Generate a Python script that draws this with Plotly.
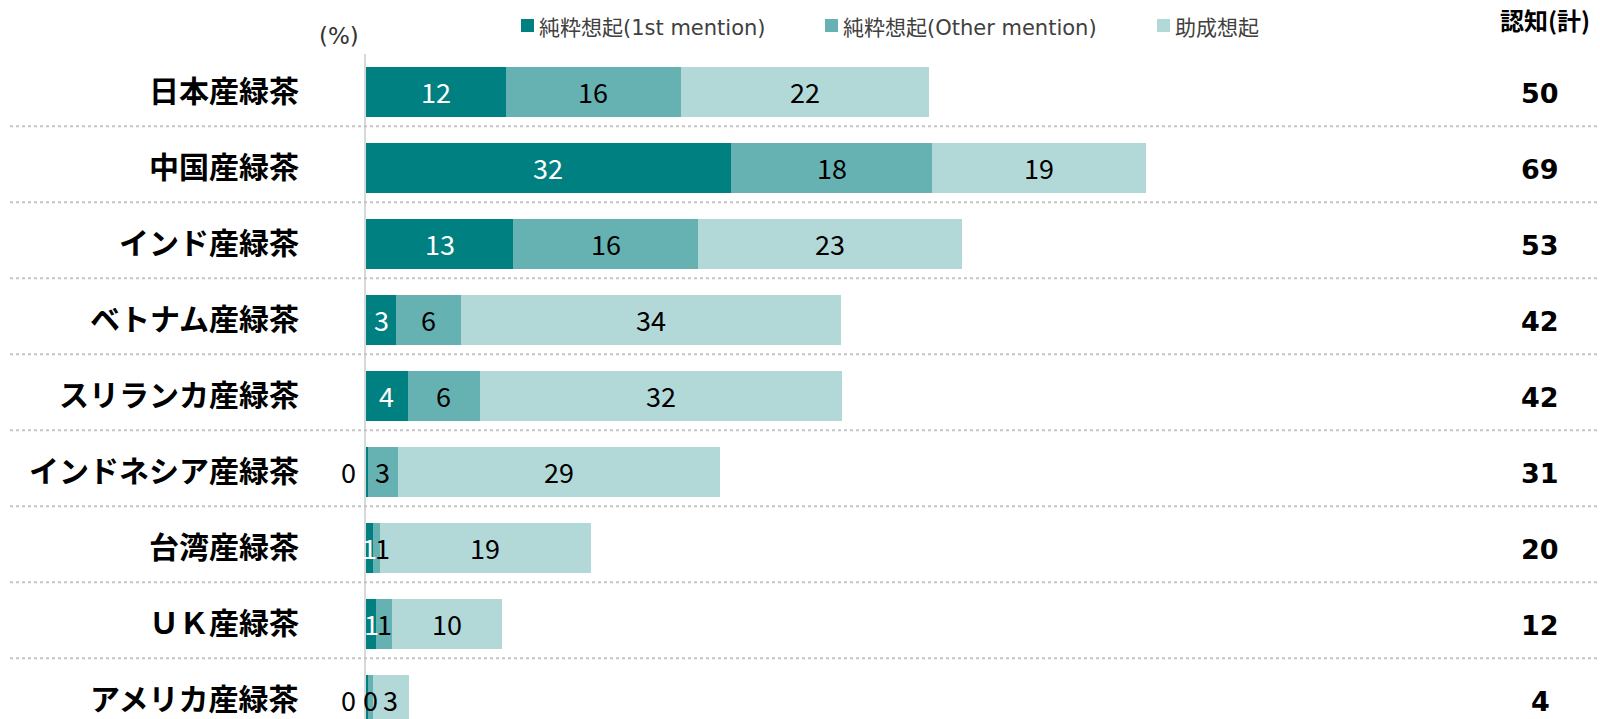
import math
import plotly.graph_objects as go

categories = ["日本産緑茶", "中国産緑茶", "インド産緑茶", "ベトナム産緑茶", "スリランカ産緑茶",
              "インドネシア産緑茶", "台湾産緑茶", "ＵＫ産緑茶", "アメリカ産緑茶"]
first_mention = [12.4, 32.4, 13.1, 2.7, 3.7, 0.2, 0.6, 0.9, 0.2]
other_mention = [15.6, 17.9, 16.4, 5.7, 6.4, 2.6, 0.6, 1.4, 0.4]
aided = [22.0, 19.0, 23.4, 33.8, 32.2, 28.6, 18.8, 9.8, 3.2]
totals = [50, 69, 53, 42, 42, 31, 20, 12, 4]
series_names = ["純粋想起(1st mention)", "純粋想起(Other mention)", "助成想起"]
colors = ["#008080", "#66B2B2", "#B2D8D8"]
label_colors = ["#FFFFFF", "#000000", "#000000"]

FONT = "Noto Sans CJK JP"
MIX = "DejaVu Sans, Noto Sans CJK JP"
W, H = 1600, 719
ML, MT = 366, 54
PW = W - ML
PH = H - MT
XMAX = 109.6
PXU = PW / XMAX


def px_x(px):
    return (px - ML) / PW


def px_y(py):
    return (H - py) / PH


series = [first_mention, other_mention, aided]
fig = go.Figure()
for name, vals, col in zip(series_names, series, colors):
    fig.add_trace(go.Bar(
        y=categories, x=vals, name=name, orientation="h",
        marker=dict(color=col, line=dict(width=0)),
        width=0.66, showlegend=False, hoverinfo="skip",
    ))

annotations = []
for i, cat in enumerate(categories):
    start = 0.0
    prev_px = None
    for s, vals in enumerate(series):
        v = vals[i]
        center = start + v / 2
        cpx = center * PXU
        txt = str(int(math.floor(v + 0.5)))
        shift = 0
        col = label_colors[s]
        if s == 0 and txt == "0":
            shift = -19
            col = "#000000"
        elif prev_px is not None and cpx - prev_px < 13:
            shift = prev_px + 13.5 - cpx
        annotations.append(dict(
            x=center, y=cat, xref="x", yref="y", text=txt, showarrow=False,
            xanchor="center", yanchor="middle", xshift=shift, yshift=1,
            font=dict(family=FONT, size=27, color=col),
        ))
        prev_px = cpx + shift
        start += v
    annotations.append(dict(
        x=px_x(301), y=cat, xref="paper", yref="y", text="<b>" + cat + "</b>",
        showarrow=False, xanchor="right", yanchor="middle", yshift=3,
        font=dict(family=FONT, size=30, color="#000000"),
    ))
    annotations.append(dict(
        x=px_x(1540), y=cat, xref="paper", yref="y", text="<b>" + str(totals[i]) + "</b>",
        showarrow=False, xanchor="center", yanchor="middle", yshift=-1,
        font=dict(family="DejaVu Sans", size=27, color="#000000"),
    ))

annotations.append(dict(x=px_x(1545), y=px_y(20), xref="paper", yref="paper",
                        text="<b>認知(計)</b>", showarrow=False,
                        xanchor="center", yanchor="middle",
                        font=dict(family=FONT, size=24, color="#000000")))
annotations.append(dict(x=px_x(339), y=px_y(36), xref="paper", yref="paper",
                        text="(%)", showarrow=False,
                        xanchor="center", yanchor="middle",
                        font=dict(family=MIX, size=23, color="#333333")))

shapes = []
leg_sq = [521, 825, 1157]
for name, col, sx in zip(series_names, colors, leg_sq):
    shapes.append(dict(type="rect", xref="paper", yref="paper",
                       x0=px_x(sx), x1=px_x(sx + 13), y0=px_y(32), y1=px_y(19),
                       fillcolor=col, line=dict(width=0)))
    annotations.append(dict(x=px_x(sx + 16), y=px_y(28), xref="paper", yref="paper",
                            text=name, showarrow=False, xanchor="left", yanchor="middle",
                            font=dict(family=MIX, size=21, color="#404040")))

for i in range(len(categories) - 1):
    shapes.append(dict(type="line", xref="paper", yref="y",
                       x0=px_x(10), x1=1, y0=i + 0.45, y1=i + 0.45,
                       line=dict(color="#C4C4C4", width=2, dash="dot")))

fig.update_layout(
    barmode="stack",
    width=W, height=H,
    margin=dict(l=ML, r=0, t=MT, b=0, pad=0),
    plot_bgcolor="white", paper_bgcolor="white",
    xaxis=dict(range=[0, XMAX], visible=False, fixedrange=True),
    yaxis=dict(range=[8.25, -0.5], showticklabels=False, showgrid=False,
               zeroline=False, showline=True, linecolor="#D9D9D9", linewidth=2,
               ticks="", fixedrange=True),
    annotations=annotations,
    shapes=shapes,
    font=dict(family=FONT),
    hovermode=False,
)

fig.write_html(
    "out.html",
    config={"displayModeBar": False, "staticPlot": True},
    post_script="document.body.style.margin='0';document.body.style.overflow='hidden';",
)
